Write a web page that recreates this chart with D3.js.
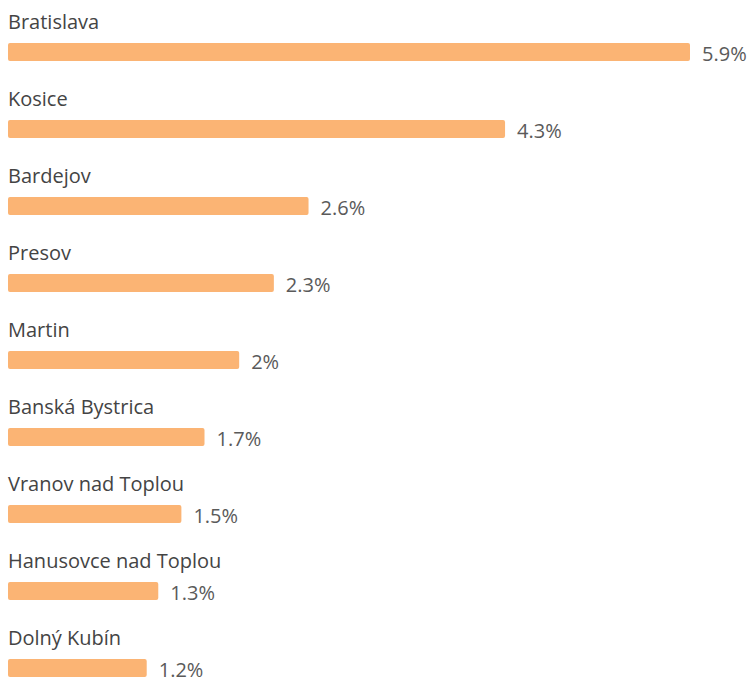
<!DOCTYPE html>
<html>
<head>
<meta charset="utf-8">
<script src="https://cdn.jsdelivr.net/npm/d3@7"></script>
<style>
  body { margin: 0; background: #fff; }
  text { font-family: "Open Sans", "Noto Sans", sans-serif; }
</style>
</head>
<body>
<script>
var width = 754, height = 682;

// chart data
var cities = ["Bratislava", "Kosice", "Bardejov", "Presov", "Martin", "Banská Bystrica",
  "Vranov nad Toplou", "Hanusovce nad Toplou", "Dolný Kubín"];
var shares = [5.9, 4.3, 2.6, 2.3, 2, 1.7, 1.5, 1.3, 1.2];
var shareLabels = ["5.9%", "4.3%", "2.6%", "2.3%", "2%", "1.7%", "1.5%", "1.3%", "1.2%"];

var rows = cities.map((c, i) => ({ city: c, value: shares[i], label: shareLabels[i] }));

var svg = d3.select('body').append('svg').attr('width', width).attr('height', height);

var x = d3.scaleLinear().domain([0, 5.9]).range([8, 690]);
// each row is 77px tall, bar sits at the bottom part
var y = d3.scaleBand().domain(cities).range([43, 43 + 77 * cities.length]).paddingInner(0).paddingOuter(0);
var barH = 18;

var g = svg.selectAll('g.row').data(rows).enter().append('g').attr('class', 'row')
  .attr('transform', d => 'translate(0,' + y(d.city) + ')');

g.append('rect')
  .attr('x', x(0))
  .attr('y', 0)
  .attr('width', d => x(d.value) - x(0))
  .attr('height', barH)
  .attr('rx', 2)
  .attr('fill', '#fbb474');

g.append('text')
  .attr('x', 8)
  .attr('y', -14)
  .attr('font-size', '20px')
  .attr('fill', '#444')
  .text(d => d.city);

g.append('text')
  .attr('x', d => x(d.value) + 12)
  .attr('y', barH)
  .attr('font-size', '20px')
  .attr('fill', '#5a5a5a')
  .text(d => d.label);
</script>
</body>
</html>
